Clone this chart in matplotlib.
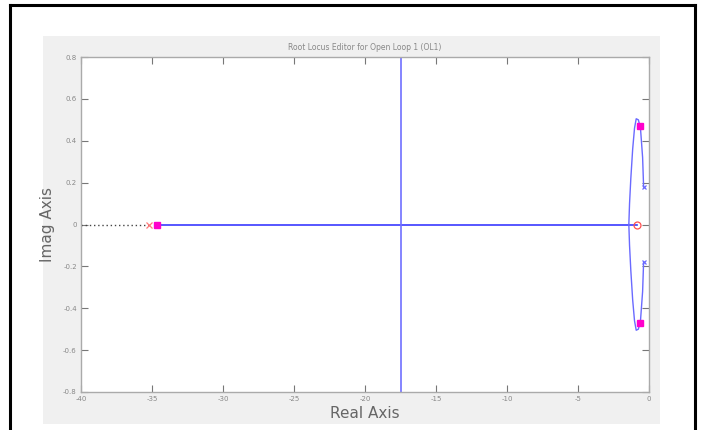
import matplotlib
matplotlib.use("Agg")
import matplotlib.pyplot as plt
from matplotlib.patches import Rectangle
from matplotlib.lines import Line2D

plt.rcParams['axes.unicode_minus'] = False

# ---- data ----
x_ticks = [-40, -35, -30, -25, -20, -15, -10, -5, 0]
y_ticks = [-0.8, -0.6, -0.4, -0.2, 0, 0.2, 0.4, 0.6, 0.8]
y_tick_labels = ["-0.8", "-0.6", "-0.4", "-0.2", "0", "0.2", "0.4", "0.6", "0.8"]

# open-loop poles / zeros
real_pole_real = [-35.2]
real_pole_imag = [0.0]
cplx_pole_real = [-0.38, -0.38]
cplx_pole_imag = [0.18, -0.18]
zero_real = [-0.85]
zero_imag = [0.0]

# closed-loop poles (magenta squares)
cl_real = [-34.65, -0.62, -0.62]
cl_imag = [0.0, 0.47, -0.47]

# real-axis branch
real_branch_x = [-34.65, -0.85]
real_branch_y = [0.0, 0.0]
# dotted branch to the left
left_branch_x = [-40.0, -35.2]
left_branch_y = [0.0, 0.0]
# vertical branch
vert_x = [-17.5, -17.5]
vert_y = [-0.8, 0.8]

# complex loop (upper half, mirrored for lower)
loop_real = [-0.38, -0.45, -0.60, -0.75, -0.90, -1.02, -1.15, -1.28, -1.37, -1.42]
loop_imag = [0.18, 0.32, 0.46, 0.50, 0.505, 0.46, 0.36, 0.22, 0.10, 0.0]

# ---- figure ----
fig = plt.figure(figsize=(7.01, 4.30), dpi=100)
fig.patch.set_facecolor('white')

W, H = 701, 430
def fx(px): return px / W
def fy(py): return 1 - py / H

# gray panel
fig.patches.append(Rectangle((fx(43), fy(424)), fx(660) - fx(43), fy(36) - fy(424),
                             transform=fig.transFigure, facecolor='#f0f0f0',
                             edgecolor='none', zorder=-10))
# black border (open at bottom)
for xs, ys in [([10, 10], [5, 430]), ([10, 695], [5, 5]), ([695, 695], [5, 430])]:
    fig.lines.append(Line2D([fx(v) for v in xs], [fy(v) for v in ys],
                            transform=fig.transFigure, color='black', lw=2.2, zorder=-5))

ax = fig.add_axes([fx(81), fy(392), fx(649) - fx(81), fy(57) - fy(392)])
ax.set_zorder(1)
ax.set_facecolor('white')

ax.plot(left_branch_x, left_branch_y, color='#444444', ls=(0, (1, 2)), lw=1.0)
ax.plot(real_branch_x, real_branch_y, color='#3a3aff', lw=1.2)
ax.plot(vert_x, vert_y, color='#7070ff', lw=1.2)
ax.plot(loop_real, loop_imag, color='#6a6aff', lw=1.0)
ax.plot(loop_real, [-v for v in loop_imag], color='#6a6aff', lw=1.0)

ax.plot(real_pole_real, real_pole_imag, ls='none', marker='x', color='#ff7a7a', ms=4, mew=0.9)
ax.plot(cplx_pole_real, cplx_pole_imag, ls='none', marker='x', color='#6a6aff', ms=3, mew=0.9)
ax.plot(zero_real, zero_imag, ls='none', marker='o', mfc='none', mec='#ff5050', ms=5, mew=0.9)
ax.plot(cl_real, cl_imag, ls='none', marker='s', color='#ff00cc', ms=4)

ax.set_xlim(-40, 0)
ax.set_ylim(-0.8, 0.8)
ax.set_xticks(x_ticks)
ax.set_xticklabels([str(v) for v in x_ticks])
ax.set_yticks(y_ticks)
ax.set_yticklabels(y_tick_labels)
ax.tick_params(direction='in', length=5, width=0.8, color='#777777',
               labelsize=5, labelcolor='#888888', top=True, right=True, pad=3)
for s in ax.spines.values():
    s.set_color('#aaaaaa')
    s.set_linewidth(1.0)

ax.set_title("Root Locus Editor for Open Loop 1 (OL1)", fontsize=5.5, color='#888888', pad=5)
ax.set_xlabel("Real Axis", fontsize=11, color='#666666', labelpad=3)
ax.set_ylabel("Imag Axis", fontsize=11, color='#666666', labelpad=6)

fig.savefig("out.png", dpi=100)
